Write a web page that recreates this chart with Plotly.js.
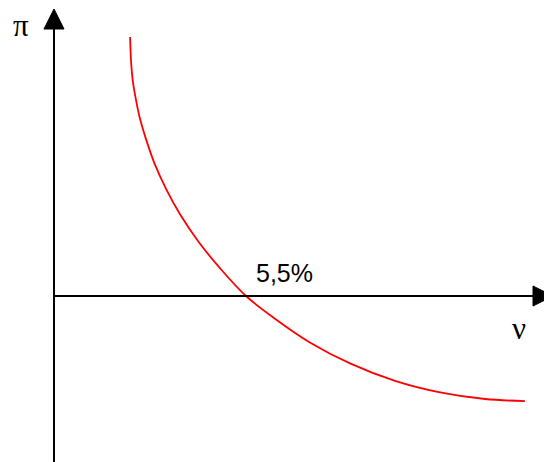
<!DOCTYPE html>
<html>
<head>
<meta charset="utf-8">
<script src="https://cdn.plot.ly/plotly-3.0.1.min.js"></script>
<style>html,body{margin:0;padding:0;background:#fff;}#chart{width:544px;height:462px;}</style>
</head>
<body>
<div id="chart"></div>
<script>
// Phillips curve: unemployment (x) vs inflation (y), data units
const curveX = [2.18, 2.21, 2.26, 2.35, 2.46, 2.64, 2.89, 3.21, 3.61, 4.13, 4.76, 5.50, 6.33, 7.33, 8.48, 9.77, 11.06, 12.35, 13.49];
const curveY = [7.42, 6.68, 6.14, 5.61, 5.09, 4.48, 3.77, 3.07, 2.34, 1.57, 0.79, 0.00, -0.65, -1.33, -1.93, -2.43, -2.76, -2.95, -3.01];
const naturalRate = 5.5;
const naturalRateLabel = "5,5%";
const yAxisLabel = "π";
const xAxisLabel = "ν";

const S = 192 / 5.5; // px per unit
const xRange = [-54 / S, 490 / S];
const yRange = [-166 / S, 296 / S];
const px = p => p / S;

const yTop = px(296 - 29), yTip = px(296 - 9);
const xEnd = px(533 - 54), xTip = px(553 - 54);
const hw = px(10);

const shapes = [
  {type:'line', xref:'x', yref:'y', x0:0, x1:0, y0:yRange[0], y1:yTop, line:{color:'#000', width:2}},
  {type:'line', xref:'x', yref:'y', x0:0, x1:xEnd, y0:0, y1:0, line:{color:'#000', width:2}},
  {type:'path', xref:'x', yref:'y', path:`M ${-hw} ${yTop} L ${hw} ${yTop} L 0 ${yTip} Z`, fillcolor:'#000', line:{color:'#000', width:1}},
  {type:'path', xref:'x', yref:'y', path:`M ${xEnd} ${-hw} L ${xEnd} ${hw} L ${xTip} 0 Z`, fillcolor:'#000', line:{color:'#000', width:1}}
];

const trace = {x: curveX, y: curveY, mode:'lines', line:{color:'#ff0000', width:1.8, shape:'spline', smoothing:1}, hoverinfo:'skip'};

const layout = {
  width:544, height:462,
  margin:{l:0, r:0, t:0, b:0},
  paper_bgcolor:'#fff', plot_bgcolor:'#fff',
  showlegend:false,
  xaxis:{range:xRange, visible:false, fixedrange:true},
  yaxis:{range:yRange, visible:false, fixedrange:true},
  shapes: shapes,
  annotations:[
    {x:px(284-54), y:px(23), xref:'x', yref:'y', text:naturalRateLabel, showarrow:false, font:{family:'Liberation Sans, Arial', size:25, color:'#000'}},
    {x:px(21-54), y:px(296-25), xref:'x', yref:'y', text:yAxisLabel, showarrow:false, font:{family:'Liberation Serif, Times New Roman', size:31, color:'#000'}},
    {x:px(519-54), y:px(296-328), xref:'x', yref:'y', text:xAxisLabel, showarrow:false, font:{family:'Liberation Serif, Times New Roman', size:31, color:'#000'}}
  ]
};

Plotly.newPlot('chart', [trace], layout, {staticPlot:true, displayModeBar:false});
</script>
</body>
</html>
